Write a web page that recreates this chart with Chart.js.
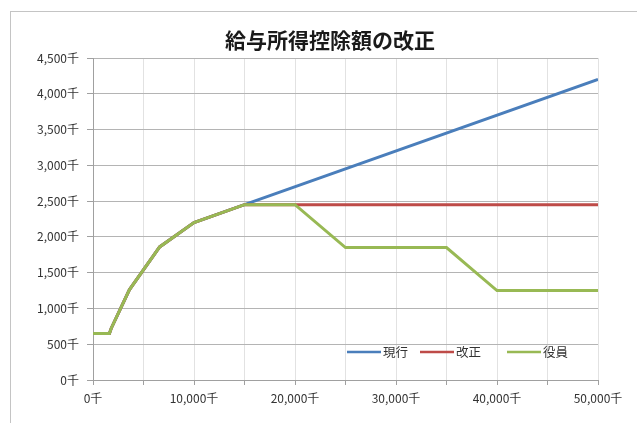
<!DOCTYPE html>
<html>
<head>
<meta charset="utf-8">
<script src="https://cdn.jsdelivr.net/npm/chart.js@4"></script>
<style>
  html, body { margin: 0; padding: 0; background: #fff; }
  #wrap { width: 637px; height: 423px; position: relative; }
</style>
</head>
<body>
<div id="wrap"><canvas id="chart"></canvas></div>
<script>
/* 給与所得控除額の改正 — line chart */

const chartTitle = '給与所得控除額の改正';
const seriesNames = ['現行', '改正', '役員'];

// 給与収入 (千円) -> 控除額 (千円)
const currentX = [0, 1625, 1800, 3600, 6600, 10000, 15000, 50000];
const currentY = [650, 650, 720, 1260, 1860, 2200, 2450, 4200];
const revisedX = [0, 1625, 1800, 3600, 6600, 10000, 15000, 50000];
const revisedY = [650, 650, 720, 1260, 1860, 2200, 2450, 2450];
const execX = [0, 1625, 1800, 3600, 6600, 10000, 15000, 20000, 25000, 35000, 40000, 50000];
const execY = [650, 650, 720, 1260, 1860, 2200, 2450, 2450, 1850, 1850, 1250, 1250];

const colors = ['#4a7ebb', '#be4b48', '#98b954'];
const FONT = "'Noto Sans CJK JP', 'Noto Sans', sans-serif";

const toPoints = (xs, ys) => xs.map((x, i) => ({ x, y: ys[i] }));
const fmt = v => v.toLocaleString('en-US') + '千';

// outer frame + title
const framePlugin = {
  id: 'frame',
  beforeDraw(chart) {
    const ctx = chart.ctx;
    ctx.save();
    ctx.strokeStyle = '#c4c4c4';
    ctx.lineWidth = 1;
    ctx.strokeRect(10.5, 11.5, 700, 500);
    ctx.fillStyle = '#1a1a1a';
    ctx.font = 'bold 21px ' + FONT;
    ctx.textAlign = 'center';
    ctx.textBaseline = 'middle';
    ctx.fillText(chartTitle, 330, 40);
    ctx.restore();
  }
};

// legend inside the plot, lower right
const legendPlugin = {
  id: 'innerLegend',
  afterDatasetsDraw(chart) {
    const ctx = chart.ctx;
    const y = 352;
    const starts = [347, 420, 507];
    ctx.save();
    ctx.font = '12.5px ' + FONT;
    ctx.textBaseline = 'middle';
    ctx.textAlign = 'left';
    seriesNames.forEach((name, i) => {
      const x = starts[i];
      ctx.strokeStyle = colors[i];
      ctx.lineWidth = 2.5;
      ctx.beginPath();
      ctx.moveTo(x, y);
      ctx.lineTo(x + 34, y);
      ctx.stroke();
      ctx.fillStyle = '#333';
      ctx.fillText(name, x + 36, y);
    });
    ctx.restore();
  }
};

new Chart(document.getElementById('chart'), {
  type: 'line',
  data: {
    datasets: [
      { label: seriesNames[0], data: toPoints(currentX, currentY), borderColor: colors[0], order: 3 },
      { label: seriesNames[1], data: toPoints(revisedX, revisedY), borderColor: colors[1], order: 2 },
      { label: seriesNames[2], data: toPoints(execX, execY), borderColor: colors[2], order: 1 }
    ]
  },
  options: {
    responsive: true,
    maintainAspectRatio: false,
    animation: false,
    layout: { padding: { top: 58, right: 39, left: 0, bottom: 0 } },
    plugins: {
      legend: { display: false },
      title: { display: false },
      tooltip: { enabled: false }
    },
    elements: {
      line: { borderWidth: 3, tension: 0, fill: false },
      point: { radius: 0 }
    },
    scales: {
      x: {
        type: 'linear',
        min: 0,
        max: 50000,
        afterFit: s => { s.height = 43; },
        grid: { color: '#e2e2e2', tickColor: '#a0a0a0', tickLength: 5 },
        border: { color: '#a0a0a0' },
        ticks: {
          stepSize: 5000,
          autoSkip: false,
          maxRotation: 0,
          color: '#333',
          font: { family: FONT, size: 12 },
          padding: 6,
          callback: v => (v % 10000 === 0 ? fmt(v) : '')
        }
      },
      y: {
        min: 0,
        max: 4500,
        afterFit: s => { s.width = 93; },
        grid: { color: '#b4b4b4', tickColor: '#a0a0a0', tickLength: 6 },
        border: { color: '#a0a0a0' },
        ticks: {
          stepSize: 500,
          color: '#333',
          font: { family: FONT, size: 12 },
          padding: 8,
          callback: v => fmt(v)
        }
      }
    }
  },
  plugins: [framePlugin, legendPlugin]
});
</script>
</body>
</html>
